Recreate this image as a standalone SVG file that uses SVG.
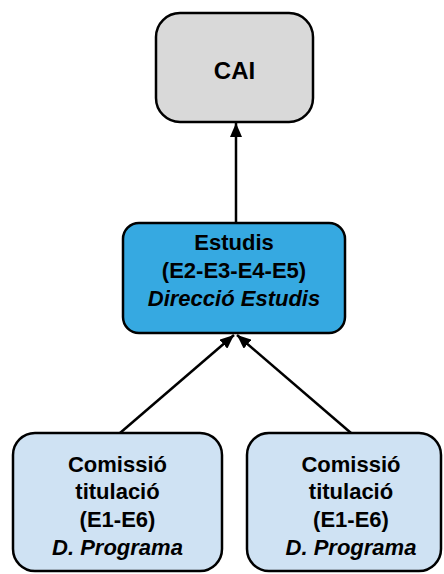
<svg xmlns="http://www.w3.org/2000/svg" width="444" height="574" viewBox="0 0 444 574">
<style>
.box{stroke:#000;stroke-width:2.5}
.t{font-family:"Liberation Sans",Arial,sans-serif;font-weight:bold;font-size:22px;fill:#000;text-anchor:middle}
.i{font-style:italic}
.c{stroke:#000;stroke-width:2.5;fill:none}
</style>
<defs>
<marker id="ah" viewBox="0 0 14 12" refX="14" refY="6" markerWidth="14" markerHeight="12" markerUnits="userSpaceOnUse" orient="auto">
<path d="M0,0 L14,6 L0,12 z" fill="#000"/>
</marker>
</defs>
<rect width="444" height="574" fill="#fff"/>
<g id="connectors">
<line class="c" x1="236" y1="223" x2="236" y2="123" marker-end="url(#ah)"/>
<line class="c" x1="120" y1="433" x2="234" y2="335" marker-end="url(#ah)"/>
<line class="c" x1="351" y1="433" x2="237" y2="335" marker-end="url(#ah)"/>
</g>
<g id="cai">
<rect class="box" x="156" y="13" width="157" height="109" rx="24" fill="#d9d9d9"/>
<text class="t" x="234.5" y="79" style="font-size:24px">CAI</text>
</g>
<g id="estudis">
<rect class="box" x="123" y="223" width="222" height="110" rx="16" fill="#36a9e1"/>
<text class="t" x="234" y="250">Estudis</text>
<text class="t" x="234" y="278">(E2-E3-E4-E5)</text>
<text class="t i" x="234" y="306">Direcció Estudis</text>
</g>
<g id="comissio1">
<rect class="box" x="13" y="433" width="209" height="138" rx="22" fill="#cfe2f3"/>
<text class="t" x="117.5" y="472">Comissió</text>
<text class="t" x="117.5" y="499">titulació</text>
<text class="t" x="117.5" y="527">(E1-E6)</text>
<text class="t i" x="117.5" y="555">D. Programa</text>
</g>
<g id="comissio2">
<rect class="box" x="247" y="433" width="194" height="138" rx="22" fill="#cfe2f3"/>
<text class="t" x="351" y="472">Comissió</text>
<text class="t" x="351" y="499">titulació</text>
<text class="t" x="351" y="527">(E1-E6)</text>
<text class="t i" x="351" y="555">D. Programa</text>
</g>
</svg>
